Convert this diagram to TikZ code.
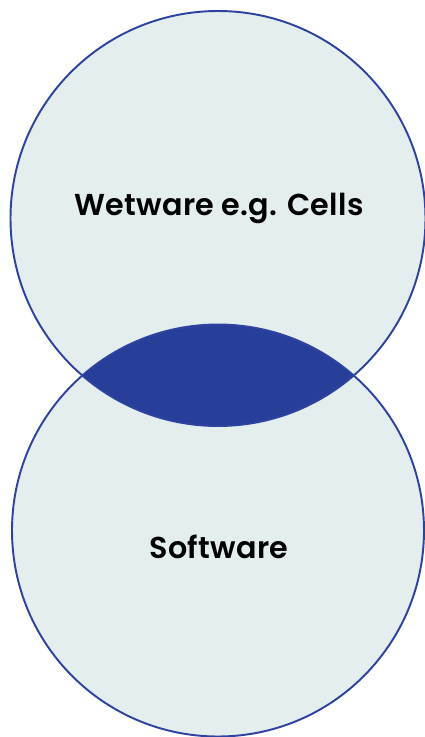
\documentclass[tikz,border=0pt]{standalone}
\usepackage{fontspec}
\setmainfont{Poppins}[BoldFont={Poppins SemiBold},LetterSpace=1]
\usepackage{tikz}

\definecolor{pale}{HTML}{E4EEEF}
\definecolor{rim}{HTML}{2E42A0}
\definecolor{lens}{HTML}{283F9A}

\begin{document}
\begin{tikzpicture}[x=0.02cm,y=-0.02cm]
\tikzstyle{label}=[font=\bfseries\fontsize{17.2}{20}\selectfont, text=black]
\useasboundingbox (0,0) rectangle (425,737);
% the two sets
\fill [pale] (218,218.5) circle (207.5);
\fill [pale] (218,530.5) circle (206);
% overlap
\begin{scope}
\clip (218,218.5) circle (207.5);
\fill [lens] (218,530.5) circle (206);
\end{scope}
\draw [rim, line width=1.1pt] (218,218.5) circle (207.5);
\draw [rim, line width=1.1pt] (218,530.5) circle (206);
\node [label] (wetware) at (219,208) {Wetware e.g. Cells};
\node [label] (software) at (219,547) {Software};
\end{tikzpicture}
\end{document}
